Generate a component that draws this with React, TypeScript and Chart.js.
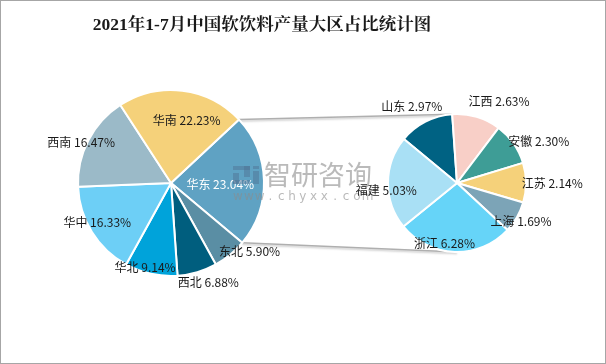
import React, { useEffect, useRef } from "react";
import { Chart, registerables } from "chart.js";
Chart.register(...registerables);

const chartTitle = "2021年1-7月中国软饮料产量大区占比统计图";

const regionLabels = ["华东", "东北", "西北", "华北", "华中", "西南", "华南"];
const regionValues = [23.04, 5.9, 6.88, 9.14, 16.33, 16.47, 22.23];
const regionColors = ["#5FA2C3", "#5A8EA4", "#005E7E", "#00A3DA", "#6DCFF6", "#9BBAC8", "#F5D17A"];

const provinceLabels = ["山东", "江西", "安徽", "江苏", "上海", "浙江", "福建"];
const provinceValues = [2.97, 2.63, 2.3, 2.14, 1.69, 6.28, 5.03];
const provinceColors = ["#006283", "#F8CFC7", "#3E9D96", "#F5D17A", "#7CA4B7", "#66D4F8", "#A9E0F5"];

const watermarkName = "智研咨询";
const watermarkUrl = "www.chyxx.com";

// label placement: [fraction along slice, radius factor]
const regionLabelPos = [[0.54, 0.53], [0.05, 1.12], [0.33, 1.14], [0.64, 0.95], [0.56, 0.9], [0.45, 1.06], [0.59, 0.69]];
const provinceLabelPos = [[0.43, 1.29], [0.76, 1.33], [0.72, 1.33], [0.51, 1.38], [0.54, 1.08], [0.6, 0.89], [0.42, 1.03]];

const LABEL_FONT = '12px "Noto Sans CJK SC", "Noto Sans", sans-serif';

function labelPlugin(id: string, labels: string[], values: number[], pos: number[][], whiteIdx: number[]) {
  return {
    id,
    afterDatasetsDraw(chart: any) {
      const ctx = chart.ctx;
      const meta = chart.getDatasetMeta(0);
      ctx.save();
      ctx.font = LABEL_FONT;
      ctx.textAlign = "center";
      ctx.textBaseline = "middle";
      meta.data.forEach((arc: any, i: number) => {
        const p = arc.getProps(["x", "y", "startAngle", "endAngle", "outerRadius"], true);
        const a = p.startAngle + pos[i][0] * (p.endAngle - p.startAngle);
        const r = pos[i][1] * p.outerRadius;
        ctx.fillStyle = whiteIdx.includes(i) ? "#ffffff" : "#1a1a1a";
        ctx.fillText(`${labels[i]} ${values[i].toFixed(2)}%`, p.x + r * Math.cos(a), p.y + r * Math.sin(a));
      });
      ctx.restore();
    },
  };
}

const LEFT_X = 0, LEFT_Y = 40, LEFT_W = 340, LEFT_H = 286;
const RIGHT_X = 339, RIGHT_Y = 40, RIGHT_W = 264, RIGHT_H = 286;

export default function App() {
  const bgRef = useRef<HTMLCanvasElement>(null);
  const leftRef = useRef<HTMLCanvasElement>(null);
  const wmRef = useRef<HTMLCanvasElement>(null);
  const rightRef = useRef<HTMLCanvasElement>(null);

  useEffect(() => {
    document.body.style.margin = "0";
    const common = {
      responsive: false,
      animation: false as const,
      devicePixelRatio: 1,
      plugins: { legend: { display: false }, tooltip: { enabled: false }, title: { display: false } },
    };
    const left = new Chart(leftRef.current!, {
      type: "pie",
      data: {
        labels: regionLabels,
        datasets: [{ data: regionValues, backgroundColor: regionColors, borderColor: "#ffffff", borderWidth: 2 }],
      },
      options: { ...common, rotation: 47, layout: { padding: { left: 76, right: 76, top: 47, bottom: 49 } } },
      plugins: [labelPlugin("leftLabels", regionLabels, regionValues, regionLabelPos, [0])],
    } as any);
    const right = new Chart(rightRef.current!, {
      type: "pie",
      data: {
        labels: provinceLabels,
        datasets: [{ data: provinceValues, backgroundColor: provinceColors, borderColor: "#ffffff", borderWidth: 2 }],
      },
      options: { ...common, rotation: -50.4, layout: { padding: { left: 47, right: 77, top: 72, bottom: 74 } } },
      plugins: [labelPlugin("rightLabels", provinceLabels, provinceValues, provinceLabelPos, [])],
    } as any);

    // connector lines
    const bg = bgRef.current!.getContext("2d")!;
    bg.clearRect(0, 0, 604, 362);
    const la: any = left.getDatasetMeta(0).data[0];
    const lp = la.getProps(["x", "y", "startAngle", "endAngle", "outerRadius"], true);
    const ra: any = right.getDatasetMeta(0).data[1];
    const rp = ra.getProps(["x", "y", "startAngle", "endAngle", "outerRadius"], true);
    const p1 = [LEFT_X + lp.x + lp.outerRadius * Math.cos(lp.startAngle), LEFT_Y + lp.y + lp.outerRadius * Math.sin(lp.startAngle)];
    const p2 = [LEFT_X + lp.x + lp.outerRadius * Math.cos(lp.endAngle), LEFT_Y + lp.y + lp.outerRadius * Math.sin(lp.endAngle)];
    const q1 = [RIGHT_X + rp.x + rp.outerRadius * Math.cos(rp.startAngle), RIGHT_Y + rp.y + rp.outerRadius * Math.sin(rp.startAngle)];
    const q2 = [RIGHT_X + rp.x, RIGHT_Y + rp.y + rp.outerRadius];
    bg.save();
    bg.strokeStyle = "#AFAFAF";
    bg.lineWidth = 1.5;
    bg.shadowColor = "rgba(0,0,0,0.22)";
    bg.shadowBlur = 2;
    bg.shadowOffsetY = 1.5;
    bg.beginPath();
    bg.moveTo(p1[0], p1[1]);
    bg.lineTo(q1[0], q1[1]);
    bg.moveTo(p2[0], p2[1]);
    bg.lineTo(q2[0], q2[1]);
    bg.stroke();
    bg.restore();

    // watermark
    const wm = wmRef.current!.getContext("2d")!;
    wm.clearRect(0, 0, 604, 362);
    wm.save();
    wm.globalAlpha = 0.5;
    wm.fillStyle = "#4F7396";
    wm.fillRect(232, 165, 17, 4);
    wm.fillRect(243, 165, 6, 11);
    wm.fillRect(232, 172, 6, 11);
    wm.fillRect(232, 179, 17, 4);
    wm.fillRect(252, 170, 6, 13);
    wm.fillRect(252, 165, 6, 3);
    wm.globalAlpha = 0.6;
    wm.fillStyle = "#8C8C8C";
    wm.font = '27px "Noto Sans CJK SC", sans-serif';
    wm.textBaseline = "middle";
    wm.textAlign = "left";
    wm.fillText(watermarkName, 263, 174);
    wm.font = '12px "DejaVu Sans", sans-serif';
    wm.textAlign = "center";
    const chars = watermarkUrl.split("");
    chars.forEach((c, i) => wm.fillText(c, 237 + i * 10.8, 196));
    wm.restore();

    return () => {
      left.destroy();
      right.destroy();
    };
  }, []);

  const abs = (x: number, y: number, w: number, h: number, z: number): React.CSSProperties => ({
    position: "absolute", left: x, top: y, width: w, height: h, zIndex: z,
  });

  return (
    <div style={{ position: "relative", width: 606, height: 364, boxSizing: "border-box", border: "1px solid #A6A6A6", background: "#fff", overflow: "hidden" }}>
      <canvas ref={bgRef} width={604} height={362} style={abs(0, 0, 604, 362, 0)} />
      <canvas ref={leftRef} width={LEFT_W} height={LEFT_H} style={abs(LEFT_X, LEFT_Y, LEFT_W, LEFT_H, 1)} />
      <canvas ref={wmRef} width={604} height={362} style={{ ...abs(0, 0, 604, 362, 2), pointerEvents: "none" }} />
      <canvas ref={rightRef} width={RIGHT_W} height={RIGHT_H} style={abs(RIGHT_X, RIGHT_Y, RIGHT_W, RIGHT_H, 3)} />
      <div style={{ position: "absolute", left: 0, top: 12, width: 522, textAlign: "center", zIndex: 4, fontFamily: '"Liberation Serif", "Noto Serif CJK SC", "Noto Sans CJK SC", serif', fontWeight: "bold", fontSize: 17.5, lineHeight: "22px", color: "#1a1a1a" }}>
        {chartTitle}
      </div>
    </div>
  );
}
